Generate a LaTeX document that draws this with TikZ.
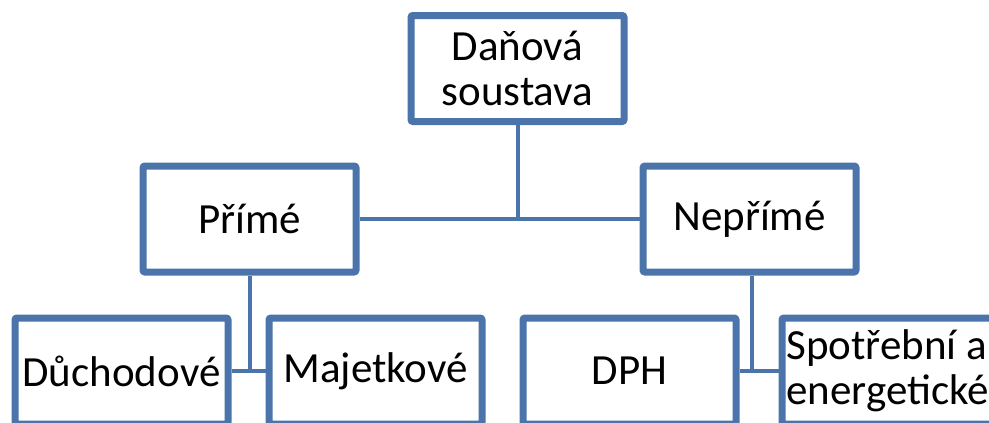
\documentclass[tikz,border=0pt]{standalone}
\usepackage{fontspec}
\setmainfont{Carlito}
\usetikzlibrary{shadows}
\definecolor{boxblue}{RGB}{74,116,170}
\tikzset{
  box/.style={draw=boxblue, line width=7pt, fill=white, rounded corners=2pt,
    minimum width=213pt, minimum height=106pt, inner sep=0pt, align=center,
    font=\fontsize{43}{45}\selectfont,
    drop shadow={opacity=0.25, shadow xshift=2pt, shadow yshift=-2pt}},
  conn/.style={draw=boxblue, line width=4pt}
}
\begin{document}
\begin{tikzpicture}[x=1pt,y=-1pt]
\useasboundingbox (0,0) rectangle (989,423);
\clip (0,0) rectangle (989,423);
\node[box] (top) at (517.5,68.5) {Daňová\\soustava};
\node[box] (prime) at (249.5,219) {Přímé};
\node[box] (neprime) at (749.5,219) {Nepřímé};
\node[box] (duch) at (121.5,371) {Důchodové};
\node[box] (majet) at (375.5,371) {Majetkové};
\node[box] (dph) at (629.5,371) {DPH};
\node[box, align=flush left, text width=204pt] (spotr) at (888.5,371) {Spotřební a\\energetické};
\draw[conn] (top.south) -- (top.south |- prime.east);
\draw[conn] (prime.east) -- (neprime.west);
\draw[conn] ([xshift=0.5pt]prime.south) -- ([xshift=0.5pt]prime.south |- duch.east);
\draw[conn] (duch.east) -- (majet.west);
\draw[conn] ([xshift=2.5pt]neprime.south) -- ([xshift=2.5pt]neprime.south |- dph.east);
\draw[conn] (dph.east) -- (spotr.west);
\end{tikzpicture}
\end{document}
